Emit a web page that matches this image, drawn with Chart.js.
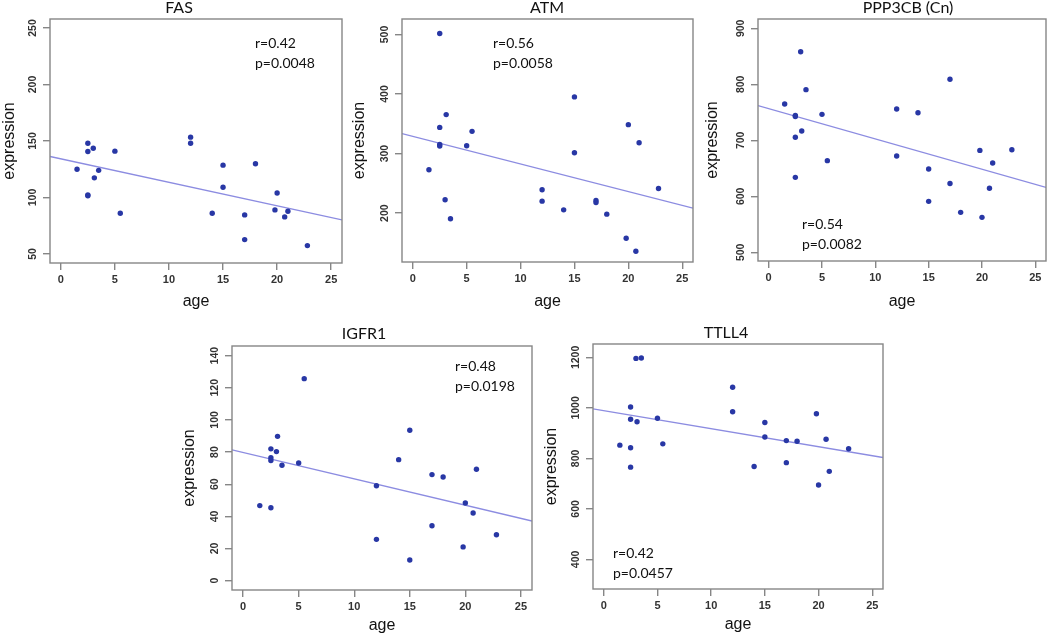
<!DOCTYPE html>
<html>
<head>
<meta charset="utf-8">
<script src="https://cdn.jsdelivr.net/npm/chart.js@4.4.0/dist/chart.umd.min.js"></script>
<style>
  body { margin: 0; background: #fff; }
  .panel { position: absolute; }
</style>
</head>
<body>
<div class="panel" style="left:0px;top:0px;width:350px;height:310px"><canvas id="c0"></canvas></div>
<div class="panel" style="left:350px;top:0px;width:350px;height:310px"><canvas id="c1"></canvas></div>
<div class="panel" style="left:700px;top:0px;width:350px;height:310px"><canvas id="c2"></canvas></div>
<div class="panel" style="left:170px;top:310px;width:370px;height:325px"><canvas id="c3"></canvas></div>
<div class="panel" style="left:540px;top:310px;width:350px;height:325px"><canvas id="c4"></canvas></div>
<script>
// ages of the samples, same order for every gene
var ages = [1.5, 2.5, 2.5, 2.5, 2.5, 3.0, 3.1, 3.5, 5.0, 5.5, 12, 12, 14, 15, 15, 17, 17, 18, 19.8, 20, 20.7, 21, 22.8];

var fasExpr   = [125, 148, 140.7, 102.3, 101.5, 143.6, 117.4, 124, 141, 86, 153.4, 148, 86, 128.6, 109, 84.6, 62.7, 129.8, 89, 104, 82.8, 87.8, 57.4];
var atmExpr   = [272.9, 501.7, 344, 315.5, 312.7, 222.4, 365.5, 190.5, 313.3, 337.4, 239.3, 220.2, 205.6, 395.2, 301.5, 221.3, 218, 198.3, 158, 348.6, 136, 318.3, 241.5];
var cnExpr    = [764.9, 744.6, 742.5, 705.4, 633.9, 858.3, 716.7, 790.5, 746.4, 663.7, 756, 672, 749.4, 648.8, 591, 809, 623, 571.4, 682, 562.5, 614.3, 659.5, 683.3];
var igfrExpr  = [46.7, 82, 76.5, 74.8, 45.4, 80.3, 89.8, 71.8, 73.2, 125.7, 59.1, 25.7, 75.3, 93.6, 12.9, 66, 34.2, 64.5, 21, 48.3, 42.1, 69.3, 28.6];
var ttllExpr  = [852.6, 1003.8, 955, 842.3, 765.4, 1196, 944.9, 1197.4, 959, 857.7, 1082, 984.6, 768, 942.3, 884.6, 870.5, 783.3, 868, 977, 694.9, 875.6, 748.7, 838.5];

// fitted line read at age -1 and age 26
var fitAges = [-1, 26];
var fasFit  = [136.3, 80.2];
var atmFit  = [333.5, 208.4];
var cnFit   = [762.1, 615.9];
var igfrFit = [81.4, 37.1];
var ttllFit = [996, 803.8];

var ageTicks  = [0, 5, 10, 15, 20, 25];
var fasTicks  = [50, 100, 150, 200, 250];
var atmTicks  = [200, 300, 400, 500];
var cnTicks   = [500, 600, 700, 800, 900];
var igfrTicks = [0, 20, 40, 60, 80, 100, 120, 140];
var ttllTicks = [400, 600, 800, 1000, 1200];

var titles = ['FAS', 'ATM', 'PPP3CB (Cn)', 'IGFR1', 'TTLL4'];
var rTexts = ['r=0.42', 'r=0.56', 'r=0.54', 'r=0.48', 'r=0.42'];
var pTexts = ['p=0.0048', 'p=0.0058', 'p=0.0082', 'p=0.0198', 'p=0.0457'];

var exprs = [fasExpr, atmExpr, cnExpr, igfrExpr, ttllExpr];
var fits = [fasFit, atmFit, cnFit, igfrFit, ttllFit];
var yTicks = [fasTicks, atmTicks, cnTicks, igfrTicks, ttllTicks];
var yRanges = [[42, 258], [118, 526], [484.5, 916.7], [-5.8, 146], [283, 1253]];

// layout of each panel (pixels inside its canvas)
var layouts = [
  {yW: 50, xH: 47, top: 19, right: 8, yTitle: 2, xTitle: 0, tx: 179, ty: 8,  note: [205, 24]},
  {yW: 52, xH: 48, top: 19, right: 7, yTitle: 2, xTitle: 0, tx: 197, ty: 8,  note: [91, 24]},
  {yW: 58, xH: 49, top: 19, right: 2, yTitle: 5, xTitle: 0, tx: 208, ty: 8,  note: [44, 205]},
  {yW: 62, xH: 45, top: 36, right: 8, yTitle: 12, xTitle: 1, tx: 194, ty: 24, note: [223, 20]},
  {yW: 53, xH: 46, top: 34, right: 7, yTitle: 4, xTitle: 2, tx: 186, ty: 23, note: [20, 209]}
];

var decor = {
  id: 'decor',
  afterDraw: function(chart, args, o) {
    var ctx = chart.ctx, a = chart.chartArea, y = chart.scales.y;
    ctx.save();
    ctx.strokeStyle = '#868686';
    ctx.lineWidth = 1.4;
    ctx.strokeRect(a.left, a.top, a.right - a.left, a.bottom - a.top);

    // y tick labels turned like in R
    ctx.fillStyle = '#333';
    ctx.font = 'bold 10.5px "Liberation Sans"';
    ctx.textAlign = 'center';
    ctx.textBaseline = 'middle';
    y.ticks.forEach(function(t) {
      ctx.save();
      ctx.translate(a.left - 17, y.getPixelForValue(t.value));
      ctx.rotate(-Math.PI / 2);
      ctx.fillText(String(t.value), 0, 0);
      ctx.restore();
    });

    ctx.fillStyle = '#111';
    ctx.font = '16px Lato';
    ctx.fillText(o.title, o.tx, o.ty);

    ctx.textAlign = 'left';
    ctx.font = '14px Lato';
    ctx.fillText(o.r, a.left + o.note[0], a.top + o.note[1]);
    ctx.fillText(o.p, a.left + o.note[0], a.top + o.note[1] + 20.5);
    ctx.restore();
  }
};

for (var i = 0; i < 5; i++) {
  (function(i) {
    var L = layouts[i];
    var points = ages.map(function(a, k) { return {x: a, y: exprs[i][k]}; });
    var line = fitAges.map(function(a, k) { return {x: a, y: fits[i][k]}; });

    new Chart(document.getElementById('c' + i), {
      type: 'scatter',
      data: {
        datasets: [
          {
            data: points,
            pointRadius: 2.7,
            pointBackgroundColor: 'rgb(40, 55, 165)',
            pointBorderWidth: 0
          },
          {
            type: 'line',
            data: line,
            borderColor: 'rgb(140, 140, 225)',
            borderWidth: 1.4,
            pointRadius: 0,
            fill: false
          }
        ]
      },
      options: {
        responsive: true,
        maintainAspectRatio: false,
        animation: false,
        layout: { padding: { left: 0, top: L.top, right: L.right, bottom: 0 } },
        plugins: {
          legend: { display: false },
          tooltip: { enabled: false },
          decor: { title: titles[i], r: rTexts[i], p: pTexts[i], tx: L.tx, ty: L.ty, note: L.note }
        },
        scales: {
          x: {
            type: 'linear',
            min: -1,
            max: 26,
            afterBuildTicks: function(s) { s.ticks = ageTicks.map(function(v) { return {value: v}; }); },
            afterFit: function(s) { s.height = L.xH; },
            border: { display: false },
            grid: { drawOnChartArea: false, color: '#868686', tickLength: 7, lineWidth: 1.4 },
            ticks: { autoSkip: false, maxRotation: 0, padding: 3, color: '#333', font: { family: 'Liberation Sans', size: 11, weight: 'bold' } },
            title: { display: true, text: 'age', color: '#111', padding: { top: 0, bottom: L.xTitle }, font: { family: 'Liberation Sans', size: 16, lineHeight: 1 } }
          },
          y: {
            type: 'linear',
            min: yRanges[i][0],
            max: yRanges[i][1],
            afterBuildTicks: function(s) { s.ticks = yTicks[i].map(function(v) { return {value: v}; }); },
            afterFit: function(s) { s.width = L.yW; },
            border: { display: false },
            grid: { drawOnChartArea: false, color: '#868686', tickLength: 7, lineWidth: 1.4 },
            ticks: { display: false },
            title: { display: true, text: 'expression', color: '#111', padding: { top: L.yTitle, bottom: 0 }, font: { family: 'Liberation Sans', size: 16, lineHeight: 1 } }
          }
        }
      },
      plugins: [decor]
    });
  })(i);
}
</script>
</body>
</html>
